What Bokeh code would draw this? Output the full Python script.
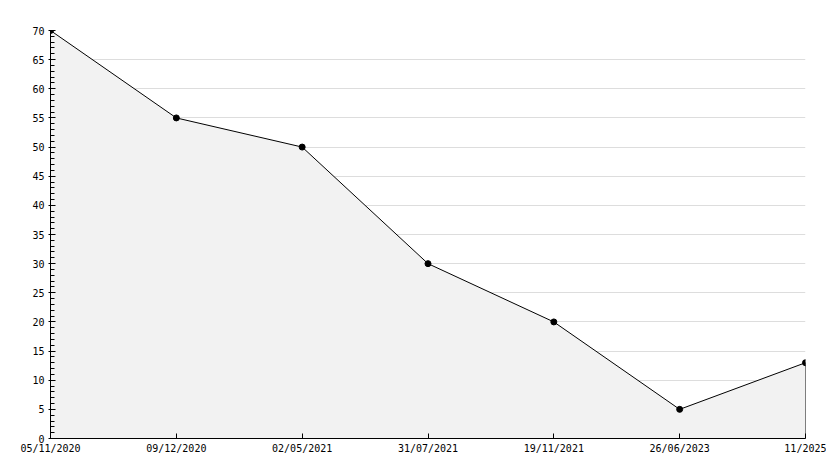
from bokeh.plotting import figure
from bokeh.models import FixedTicker, SingleIntervalTicker, Range1d
from bokeh.embed import file_html
from bokeh.resources import INLINE

dates = ["05/11/2020", "09/12/2020", "02/05/2021", "31/07/2021", "19/11/2021", "26/06/2023", "11/2025"]
values = [70, 55, 50, 30, 20, 5, 13]
xs = list(range(len(dates)))

p = figure(width=826, height=460, output_backend="svg", toolbar_location=None,
           x_range=Range1d(0, len(dates) - 1), y_range=Range1d(0, 70),
           min_border_left=50, min_border_right=21, min_border_top=30, min_border_bottom=22)
p.outline_line_color = None
p.background_fill_color = "white"

# area under the line with black outline
px = xs + [xs[-1], xs[0]]
py = values + [0, 0]
p.patch(px, py, fill_color="#f2f2f2", line_color="black", line_width=1)
p.scatter(xs, values, size=6, color="black", marker="circle")

p.xgrid.grid_line_color = None
p.ygrid.grid_line_color = "#dddddd"
p.ygrid.grid_line_width = 1

p.xaxis.ticker = FixedTicker(ticks=xs)
p.xaxis.major_label_overrides = {i: d for i, d in enumerate(dates)}
p.yaxis.ticker = SingleIntervalTicker(interval=5, num_minor_ticks=5)

for ax in (p.xaxis, p.yaxis):
    ax.axis_line_color = "black"
    ax.major_tick_line_color = "black"
    ax.minor_tick_line_color = "black"
    ax.major_label_text_font = "DejaVu Sans Mono"
    ax.major_label_text_font_size = "10px"
    ax.major_label_text_color = "black"

p.xaxis.major_tick_in = 5
p.xaxis.major_tick_out = 0
p.xaxis.minor_tick_line_color = None
p.xaxis.major_label_standoff = 4

p.yaxis.major_tick_in = 5
p.yaxis.major_tick_out = 2
p.yaxis.minor_tick_in = 4
p.yaxis.minor_tick_out = 0
p.yaxis.major_label_standoff = 4

open("out.html", "w").write(file_html(p, INLINE))
